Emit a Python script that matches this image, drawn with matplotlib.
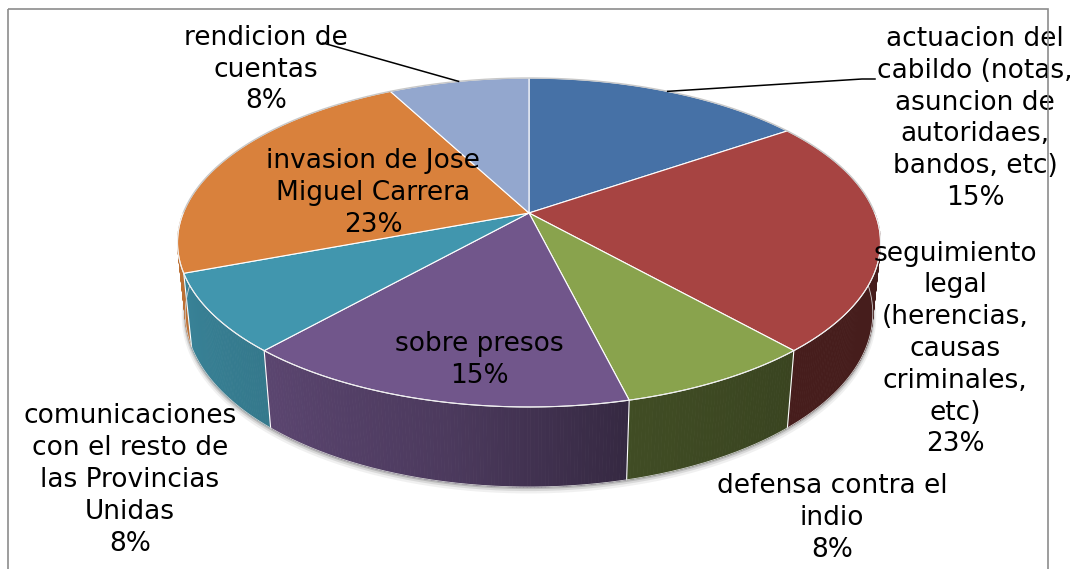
import numpy as np
import matplotlib
matplotlib.use("Agg")
import matplotlib.pyplot as plt
from matplotlib.collections import PolyCollection
from matplotlib.patches import Polygon, Rectangle
from matplotlib.colors import to_rgb

# ---------------- data ----------------
categories = [
    "actuacion del\ncabildo (notas,\nasuncion de\nautoridaes,\nbandos, etc)",
    "seguimiento\nlegal\n(herencias,\ncausas\ncriminales,\netc)",
    "defensa contra el\nindio",
    "sobre presos",
    "comunicaciones\ncon el resto de\nlas Provincias\nUnidas",
    "invasion de Jose\nMiguel Carrera",
    "rendicion de\ncuentas",
]
values = [2, 3, 1, 2, 1, 3, 1]
colors = ["#4671A6", "#A74442", "#89A34D", "#71568B", "#4196AE", "#D9813C", "#93A7CE"]

# ---------------- layout / style ----------------
label_pos = [(975, 118.5), (955, 349), (832, 518), (479, 360),
             (130, 480), (373, 193), (266, 69.5)]
FS = 19

W, Hpx = 1075, 569
fig = plt.figure(figsize=(W / 100, Hpx / 100), dpi=100)
ax = fig.add_axes([0, 0, 1, 1])
ax.set_xlim(0, W)
ax.set_ylim(Hpx, 0)
ax.axis("off")

# perspective camera
CX, CY = 529, 213
F, D = 1712.0, 4.951
S = 0.4604
C = np.sqrt(1 - S * S)
HGT = 0.2333


def proj(theta_deg, z):
    t = np.radians(theta_deg)
    x, y = np.cos(t), np.sin(t)
    depth = y * C - z * S + D
    up = y * S + z * C
    return CX + F * x / depth, CY - F * up / depth


def shade(theta_deg):
    phi = -np.asarray(theta_deg)
    return np.interp(phi, [0, 50, 76, 101, 130, 160, 180],
                     [0.42, 0.42, 0.47, 0.67, 0.80, 0.87, 0.88])


vals = np.asarray(values, dtype=float)
total = vals.sum()
cum = np.concatenate([[0], np.cumsum(vals)]) / total
t_start = 90 - 360 * cum[:-1]
t_end = 90 - 360 * cum[1:]

# shadow under the base
tt = np.linspace(-180, 0, 400)
bx, by = proj(tt, -HGT)
for off, a, lw in [(3.0, 0.10, 5), (2.0, 0.18, 3), (1.0, 0.30, 1.6)]:
    ax.plot(bx, by + off, color="#707070", alpha=a, lw=lw, zorder=1,
            solid_capstyle="round")

# side walls
polys, fcs, depths = [], [], []
for i in range(len(vals)):
    lo, hi = max(t_end[i], -180.0), min(t_start[i], 0.0)
    if lo >= hi:
        continue
    n = max(2, int((hi - lo) / 0.5) + 1)
    a = np.linspace(lo, hi, n)
    base = np.array(to_rgb(colors[i]))
    for a0, a1 in zip(a[:-1], a[1:]):
        x0t, y0t = proj(a0, 0)
        x1t, y1t = proj(a1, 0)
        x0b, y0b = proj(a0, -HGT)
        x1b, y1b = proj(a1, -HGT)
        polys.append([(x0t, y0t), (x1t, y1t), (x1b, y1b), (x0b, y0b)])
        am = 0.5 * (a0 + a1)
        fcs.append(np.clip(base * shade(am), 0, 1))
        depths.append(np.sin(np.radians(am)) * C)
order = np.argsort(depths)[::-1]
pc = PolyCollection([polys[k] for k in order],
                    facecolors=[fcs[k] for k in order],
                    edgecolors=[fcs[k] for k in order],
                    linewidths=0.6, zorder=2)
ax.add_collection(pc)

# vertical edges of walls at slice boundaries
for b in np.concatenate([t_start, [t_end[-1]]]):
    bb = b
    while bb > 0:
        bb -= 360
    while bb < -180:
        bb += 360
    if -180 < bb < 0:
        xt, yt = proj(bb, 0)
        xb, yb = proj(bb, -HGT)
        ax.plot([xt, xb], [yt, yb], color="white", lw=0.8, zorder=3)

# front rim of wall bottom
ax.plot(bx, by, color="#d0d0d0", lw=0.6, zorder=3)

# top faces
for i in range(len(vals)):
    n = max(3, int(abs(t_start[i] - t_end[i]) / 0.5) + 1)
    a = np.linspace(t_start[i], t_end[i], n)
    rx, ry = proj(a, 0)
    pts = [(CX, CY)] + list(zip(rx, ry))
    ax.add_patch(Polygon(pts, closed=True, facecolor=colors[i],
                         edgecolor="white", lw=0.8, zorder=4))

# back rim
tb = np.linspace(0, 180, 300)
rx, ry = proj(tb, 0)
ax.plot(rx, ry, color="#c8c8c8", lw=1.0, zorder=5)
tf = np.linspace(-180, 0, 300)
rx, ry = proj(tf, 0)
ax.plot(rx, ry, color="#eeeeee", lw=0.7, zorder=5)

# labels
for i, (cat, (lx, ly)) in enumerate(zip(categories, label_pos)):
    pct = int(round(100 * vals[i] / total))
    ax.text(lx, ly, f"{cat}\n{pct}%", ha="center", va="center",
            multialignment="center", fontsize=FS, linespacing=1.29,
            family="DejaVu Sans", color="black", zorder=7)

# leader lines (anchored at mid-angle of the slice rim)
mid = 0.5 * (t_start + t_end)
ax0, ay0 = proj(mid[0], 0)
ax.plot([ax0, 862, 875], [ay0, 79, 79], color="black", lw=1.1, zorder=6)
ax6, ay6 = proj(mid[6], 0)
ax.plot([ax6, 323], [ay6, 43], color="black", lw=1.1, zorder=6)

# chart frame
ax.add_patch(Rectangle((8, 9), 1040, 620, fill=False, edgecolor="#8c8c8c",
                       lw=1.2, zorder=8))

fig.savefig("out.png", dpi=100)
